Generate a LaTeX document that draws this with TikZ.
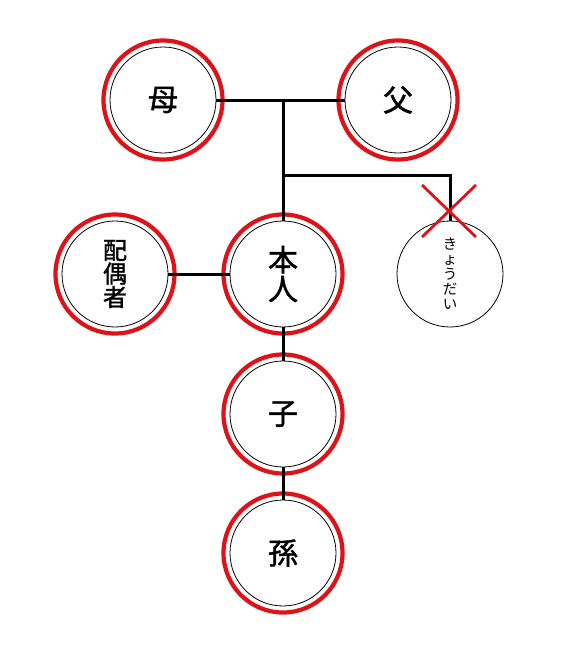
\documentclass[tikz,border=0pt]{standalone}
\usepackage{fontspec}
\newfontfamily\jpfont{Noto Sans CJK JP}[FakeBold=1.4]
\newfontfamily\kanafont{Noto Sans CJK JP}
\definecolor{ringred}{RGB}{220,20,25}

\begin{document}
\begin{tikzpicture}[x=1pt, y=-1pt,
    person/.style={circle, draw, line width=0.8pt, minimum size=106pt, inner sep=0pt,
      align=center, font=\jpfont\fontsize{30pt}{29pt}\selectfont},
    % red ring round the people who are heirs
    ring/.style={draw=ringred, line width=4.2pt},
    link/.style={line width=3pt},
    cross/.style={draw=ringred, line width=2.8pt}
  ]
  \useasboundingbox (0,0) rectangle (580,648);

  % --- people ---
  \node[person] (mother) at (163,100) {母};
  \node[person] (father) at (398,100) {父};
  \node[person, font=\jpfont\fontsize{24pt}{23.5pt}\selectfont] (spouse) at (115,274) {配\\偶\\者};
  \node[person] (me) at (283,274) {本\\人};
  \node[person, font=\kanafont\fontsize{14.5pt}{15pt}\selectfont] (sibling) at (450,274) {き\\ょ\\う\\だ\\い};
  \node[person] (child) at (283,414) {子};
  \node[person] (grandchild) at (283,553) {孫};

  \foreach \n in {mother, father, spouse, me, child, grandchild}
    \draw[ring] (\n.center) circle (59.5pt);

  % --- lines ---
  \coordinate (parents) at (283,100);
  \coordinate (fork) at (283,175);
  \draw[link] (mother.east) -- (father.west);
  \draw[link] (parents) -- (me.north);
  \draw[link] (fork) -| (sibling.north);
  \draw[link] (spouse.east) -- (me.west);
  \draw[link] (me.south) -- (child.north);
  \draw[link] (child.south) -- (grandchild.north);

  % --- sibling crossed out ---
  \coordinate (x) at (449,211);
  \draw[cross] (x) ++(-27,-26) -- ++(54,52) (x) ++(27,-26) -- ++(-54,52);
\end{tikzpicture}
\end{document}
